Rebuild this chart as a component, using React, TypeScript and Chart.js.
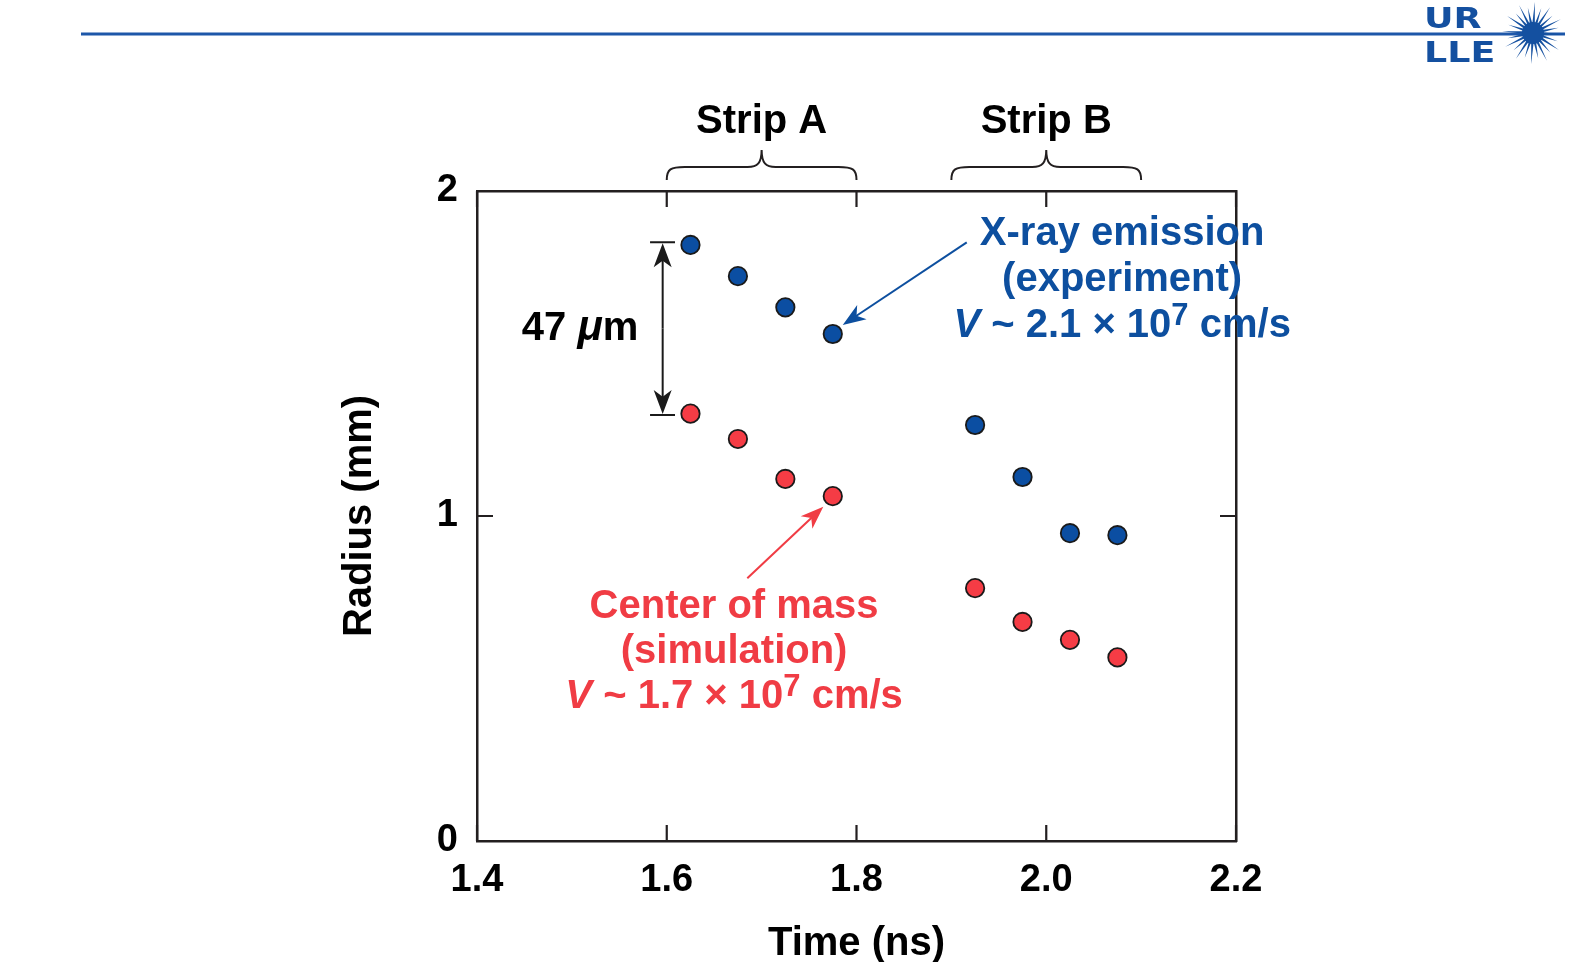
import React, { useEffect, useRef } from "react";
import { Chart, registerables } from "chart.js";

Chart.register(...registerables);

// ---- data ----
const timesA = [1.625, 1.675, 1.725, 1.775];
const timesB = [1.925, 1.975, 2.025, 2.075];
const xrayA = [1.834, 1.738, 1.642, 1.560];
const xrayB = [1.280, 1.120, 0.947, 0.941];
const comA = [1.315, 1.237, 1.114, 1.061];
const comB = [0.778, 0.674, 0.619, 0.565];
const X_TICKS = [1.4, 1.6, 1.8, 2.0, 2.2];
const Y_TICKS = [0, 1, 2];

const xrayLabel = ["X-ray emission", "(experiment)"];
const comLabel = ["Center of mass", "(simulation)"];
const xrayV = "2.1";
const comV = "1.7";

// ---- styles ----
const FONT = "'Liberation Sans', Arial, Helvetica, sans-serif";
const BLUE = "#0b4ea2";
const RED = "#f53c45";
const BLUE_TXT = "#0d4f9f";
const RED_TXT = "#f03c44";
const AXIS = "#231f20";

// annotation anchors (data coordinates)
const BLUE_TXT_X = 2.08;
const BLUE_TXT_Y = [1.834, 1.692, 1.551];
const RED_TXT_X = 1.671;
const RED_TXT_Y = [0.686, 0.548, 0.409];
const MU_POS = [1.5086, 1.5415];
const STRIPS = [
  { name: "Strip A", from: 1.6, to: 1.8 },
  { name: "Strip B", from: 1.9, to: 2.1 },
];
const STRIP_BASE = 2.178;
const BRACE_END = 2.034;
const BRACE_MID = 2.074;
const BRACE_TIP = 2.126;
const BLUE_ARROW = [1.9162, 1.842, 1.7855, 1.588];
const RED_ARROW = [1.6849, 0.8083, 1.765, 1.0286];
const SPAN = { x: 1.5957, x0: 1.5824, x1: 1.6087, yTop: 1.842, yBot: 1.311 };

type Run = { text: string; font: string; dy?: number };

function drawRuns(ctx: CanvasRenderingContext2D, runs: Run[], cx: number, base: number, color: string) {
  let total = 0;
  const ws = runs.map((r) => {
    ctx.font = r.font;
    const w = ctx.measureText(r.text).width;
    total += w;
    return w;
  });
  let x = cx - total / 2;
  ctx.fillStyle = color;
  ctx.textAlign = "left";
  ctx.textBaseline = "alphabetic";
  runs.forEach((r, i) => {
    ctx.font = r.font;
    ctx.fillText(r.text, x, base + (r.dy || 0));
    x += ws[i];
  });
}

function arrow(ctx: CanvasRenderingContext2D, x0: number, y0: number, x1: number, y1: number, color: string, len = 21, half = 8) {
  const ang = Math.atan2(y1 - y0, x1 - x0);
  ctx.strokeStyle = color;
  ctx.fillStyle = color;
  ctx.lineWidth = 2;
  ctx.beginPath();
  ctx.moveTo(x0, y0);
  ctx.lineTo(x1 - Math.cos(ang) * len * 0.7, y1 - Math.sin(ang) * len * 0.7);
  ctx.stroke();
  ctx.save();
  ctx.translate(x1, y1);
  ctx.rotate(ang);
  ctx.beginPath();
  ctx.moveTo(0, 0);
  ctx.lineTo(-len, -half);
  ctx.lineTo(-len * 0.72, 0);
  ctx.lineTo(-len, half);
  ctx.closePath();
  ctx.fill();
  ctx.restore();
}

function brace(ctx: CanvasRenderingContext2D, x0: number, x1: number, yEnd: number, yMid: number, yTip: number) {
  const xm = (x0 + x1) / 2;
  const r = 18;
  const rc = 14;
  ctx.beginPath();
  ctx.moveTo(x0, yEnd);
  ctx.bezierCurveTo(x0, yMid + 2, x0 + 4, yMid, x0 + r, yMid);
  ctx.lineTo(xm - rc, yMid);
  ctx.bezierCurveTo(xm - 4, yMid, xm, yMid - 4, xm, yTip);
  ctx.bezierCurveTo(xm, yMid - 4, xm + 4, yMid, xm + rc, yMid);
  ctx.lineTo(x1 - r, yMid);
  ctx.bezierCurveTo(x1 - 4, yMid, x1, yMid + 2, x1, yEnd);
  ctx.stroke();
}

function drawLogo(ctx: CanvasRenderingContext2D) {
  // header rule
  ctx.save();
  ctx.strokeStyle = "#1d57a9";
  ctx.lineWidth = 3;
  ctx.beginPath();
  ctx.moveTo(81, 34);
  ctx.lineTo(1565, 34);
  ctx.stroke();
  // UR / LLE
  ctx.fillStyle = "#1450a0";
  ctx.textBaseline = "alphabetic";
  ctx.textAlign = "left";
  ctx.font = `bold 28px 'DejaVu Sans', ${FONT}`;
  ctx.save();
  ctx.translate(1424, 28);
  ctx.scale(1.3, 1);
  ctx.fillText("UR", 0, 0);
  ctx.restore();
  ctx.save();
  ctx.translate(1424, 62);
  ctx.scale(1.3, 1);
  ctx.fillText("LLE", 0, 0);
  ctx.restore();
  // starburst
  const cx = 1533, cy = 33;
  const n = 24;
  for (let i = 0; i < n; i++) {
    const a = (i / n) * Math.PI * 2 + 0.06;
    const L = i % 2 === 0 ? 31 : 26;
    const w = 0.14;
    ctx.beginPath();
    ctx.moveTo(cx + Math.cos(a - w) * 9, cy + Math.sin(a - w) * 9);
    ctx.lineTo(cx + Math.cos(a) * L, cy + Math.sin(a) * L);
    ctx.lineTo(cx + Math.cos(a + w) * 9, cy + Math.sin(a + w) * 9);
    ctx.closePath();
    ctx.fill();
  }
  ctx.beginPath();
  ctx.arc(cx, cy, 11, 0, Math.PI * 2);
  ctx.fill();
  ctx.restore();
}

const annotPlugin = {
  id: "annot",
  beforeDatasetsDraw(chart: any) {
    const ctx: CanvasRenderingContext2D = chart.ctx;
    const xs = chart.scales.x;
    const ys = chart.scales.y;
    const { left, right, top, bottom } = chart.chartArea;
    ctx.save();
    ctx.strokeStyle = AXIS;
    ctx.lineWidth = 2.2;
    ctx.beginPath();
    X_TICKS.forEach((v) => {
      const px = xs.getPixelForValue(v);
      ctx.moveTo(px, bottom);
      ctx.lineTo(px, bottom - 16);
      ctx.moveTo(px, top);
      ctx.lineTo(px, top + 16);
    });
    Y_TICKS.forEach((v) => {
      const py = ys.getPixelForValue(v);
      ctx.moveTo(left, py);
      ctx.lineTo(left + 16, py);
      ctx.moveTo(right, py);
      ctx.lineTo(right - 16, py);
    });
    ctx.stroke();
    ctx.restore();
  },
  afterDraw(chart: any) {
    const ctx: CanvasRenderingContext2D = chart.ctx;
    const xs = chart.scales.x;
    const ys = chart.scales.y;
    const X = (v: number) => xs.getPixelForValue(v);
    const Y = (v: number) => ys.getPixelForValue(v);
    ctx.save();

    // strips + braces
    ctx.strokeStyle = AXIS;
    ctx.lineWidth = 2;
    STRIPS.forEach((s) => {
      brace(ctx, X(s.from), X(s.to), Y(BRACE_END), Y(BRACE_MID), Y(BRACE_TIP));
      drawRuns(ctx, [{ text: s.name, font: `bold 40px ${FONT}` }], X((s.from + s.to) / 2), Y(STRIP_BASE), "#000");
    });

    // 47 um span arrow
    const sx = X(SPAN.x);
    const yt = Y(SPAN.yTop);
    const yb = Y(SPAN.yBot);
    ctx.strokeStyle = "#1a1a1a";
    ctx.lineWidth = 2;
    ctx.beginPath();
    ctx.moveTo(X(SPAN.x0), yt);
    ctx.lineTo(X(SPAN.x1), yt);
    ctx.moveTo(X(SPAN.x0), yb);
    ctx.lineTo(X(SPAN.x1), yb);
    ctx.stroke();
    arrow(ctx, sx, (yt + yb) / 2, sx, yt + 1, "#1a1a1a", 24, 9);
    arrow(ctx, sx, (yt + yb) / 2, sx, yb - 1, "#1a1a1a", 24, 9);
    drawRuns(
      ctx,
      [
        { text: "47 ", font: `bold 40px ${FONT}` },
        { text: "\u03bc", font: `italic bold 42px ${FONT}` },
        { text: "m", font: `bold 40px ${FONT}` },
      ],
      X(MU_POS[0]),
      Y(MU_POS[1]),
      "#000"
    );

    // blue annotation
    arrow(ctx, X(BLUE_ARROW[0]), Y(BLUE_ARROW[1]), X(BLUE_ARROW[2]), Y(BLUE_ARROW[3]), BLUE_TXT, 23, 8.5);
    drawRuns(ctx, [{ text: xrayLabel[0], font: `bold 40px ${FONT}` }], X(BLUE_TXT_X), Y(BLUE_TXT_Y[0]), BLUE_TXT);
    drawRuns(ctx, [{ text: xrayLabel[1], font: `bold 40px ${FONT}` }], X(BLUE_TXT_X), Y(BLUE_TXT_Y[1]), BLUE_TXT);
    drawRuns(
      ctx,
      [
        { text: "V", font: `italic bold 40px ${FONT}` },
        { text: " ~ " + xrayV + " \u00d7 10", font: `bold 40px ${FONT}` },
        { text: "7", font: `bold 31px ${FONT}`, dy: -12 },
        { text: " cm/s", font: `bold 40px ${FONT}` },
      ],
      X(BLUE_TXT_X),
      Y(BLUE_TXT_Y[2]),
      BLUE_TXT
    );

    // red annotation
    arrow(ctx, X(RED_ARROW[0]), Y(RED_ARROW[1]), X(RED_ARROW[2]), Y(RED_ARROW[3]), RED_TXT, 23, 8.5);
    drawRuns(ctx, [{ text: comLabel[0], font: `bold 40px ${FONT}` }], X(RED_TXT_X), Y(RED_TXT_Y[0]), RED_TXT);
    drawRuns(ctx, [{ text: comLabel[1], font: `bold 40px ${FONT}` }], X(RED_TXT_X), Y(RED_TXT_Y[1]), RED_TXT);
    drawRuns(
      ctx,
      [
        { text: "V", font: `italic bold 40px ${FONT}` },
        { text: " ~ " + comV + " \u00d7 10", font: `bold 40px ${FONT}` },
        { text: "7", font: `bold 31px ${FONT}`, dy: -12 },
        { text: " cm/s", font: `bold 40px ${FONT}` },
      ],
      X(RED_TXT_X),
      Y(RED_TXT_Y[2]),
      RED_TXT
    );

    drawLogo(ctx);
    ctx.restore();
  },
};

export default function App() {
  const ref = useRef<HTMLCanvasElement | null>(null);

  useEffect(() => {
    document.body.style.margin = "0";
    if (!ref.current) return;
    const pts = (xs: number[], ys: number[]) => xs.map((x, i) => ({ x, y: ys[i] }));
    const chart = new Chart(ref.current, {
      type: "scatter",
      data: {
        datasets: [
          {
            label: "X-ray emission (experiment)",
            data: [...pts(timesA, xrayA), ...pts(timesB, xrayB)],
            backgroundColor: BLUE,
            borderColor: "#1a1a1a",
            borderWidth: 1.8,
            pointRadius: 9.2,
            clip: false as any,
          },
          {
            label: "Center of mass (simulation)",
            data: [...pts(timesA, comA), ...pts(timesB, comB)],
            backgroundColor: RED,
            borderColor: "#1a1a1a",
            borderWidth: 1.8,
            pointRadius: 9.2,
            clip: false as any,
          },
        ],
      },
      options: {
        animation: false,
        responsive: false,
        devicePixelRatio: 1,
        events: [],
        layout: { padding: { left: 340, right: 322, top: 161, bottom: 0 } },
        plugins: { legend: { display: false }, tooltip: { enabled: false } },
        scales: {
          x: {
            type: "linear",
            position: "bottom",
            min: 1.4,
            max: 2.2,
            afterBuildTicks: (s: any) => {
              s.ticks = X_TICKS.map((v) => ({ value: v }));
            },
            afterFit: (s: any) => {
              s.height = 121;
            },
            ticks: {
              callback: (v: any) => Number(v).toFixed(1),
              font: { family: FONT, size: 38, weight: "bold" },
              color: "#000",
              padding: 9,
              maxRotation: 0,
            },
            grid: { display: false },
            border: { display: true, color: AXIS, width: 2.5 },
            title: {
              display: true,
              text: "Time (ns)",
              color: "#000",
              font: { family: FONT, size: 40, weight: "bold", lineHeight: 1 },
              padding: { top: 0, bottom: -2 },
            },
          },
          y: {
            type: "linear",
            position: "left",
            min: 0,
            max: 2,
            afterBuildTicks: (s: any) => {
              s.ticks = Y_TICKS.map((v) => ({ value: v }));
            },
            afterFit: (s: any) => {
              s.width = 137;
            },
            ticks: {
              callback: (v: any) => String(v),
              font: { family: FONT, size: 38, weight: "bold" },
              color: "#000",
              padding: 11,
            },
            grid: { display: false },
            border: { display: true, color: AXIS, width: 2.5 },
            title: {
              display: true,
              text: "Radius (mm)",
              color: "#000",
              font: { family: FONT, size: 40, weight: "bold", lineHeight: 1 },
              padding: 0,
            },
          },
          x2: {
            type: "linear",
            position: "top",
            min: 1.4,
            max: 2.2,
            ticks: { display: false },
            grid: { display: false },
            border: { display: true, color: AXIS, width: 2.5 },
            afterFit: (s: any) => {
              s.height = 30;
            },
          },
          y2: {
            type: "linear",
            position: "right",
            min: 0,
            max: 2,
            ticks: { display: false },
            grid: { display: false },
            border: { display: true, color: AXIS, width: 2.5 },
            afterFit: (s: any) => {
              s.width = 30;
            },
          },
        },
      },
      plugins: [annotPlugin],
    });
    return () => chart.destroy();
  }, []);

  return (
    <div style={{ width: 1588, height: 962, position: "relative", background: "#fff" }}>
      <canvas ref={ref} width={1588} height={962} style={{ display: "block" }} />
    </div>
  );
}
